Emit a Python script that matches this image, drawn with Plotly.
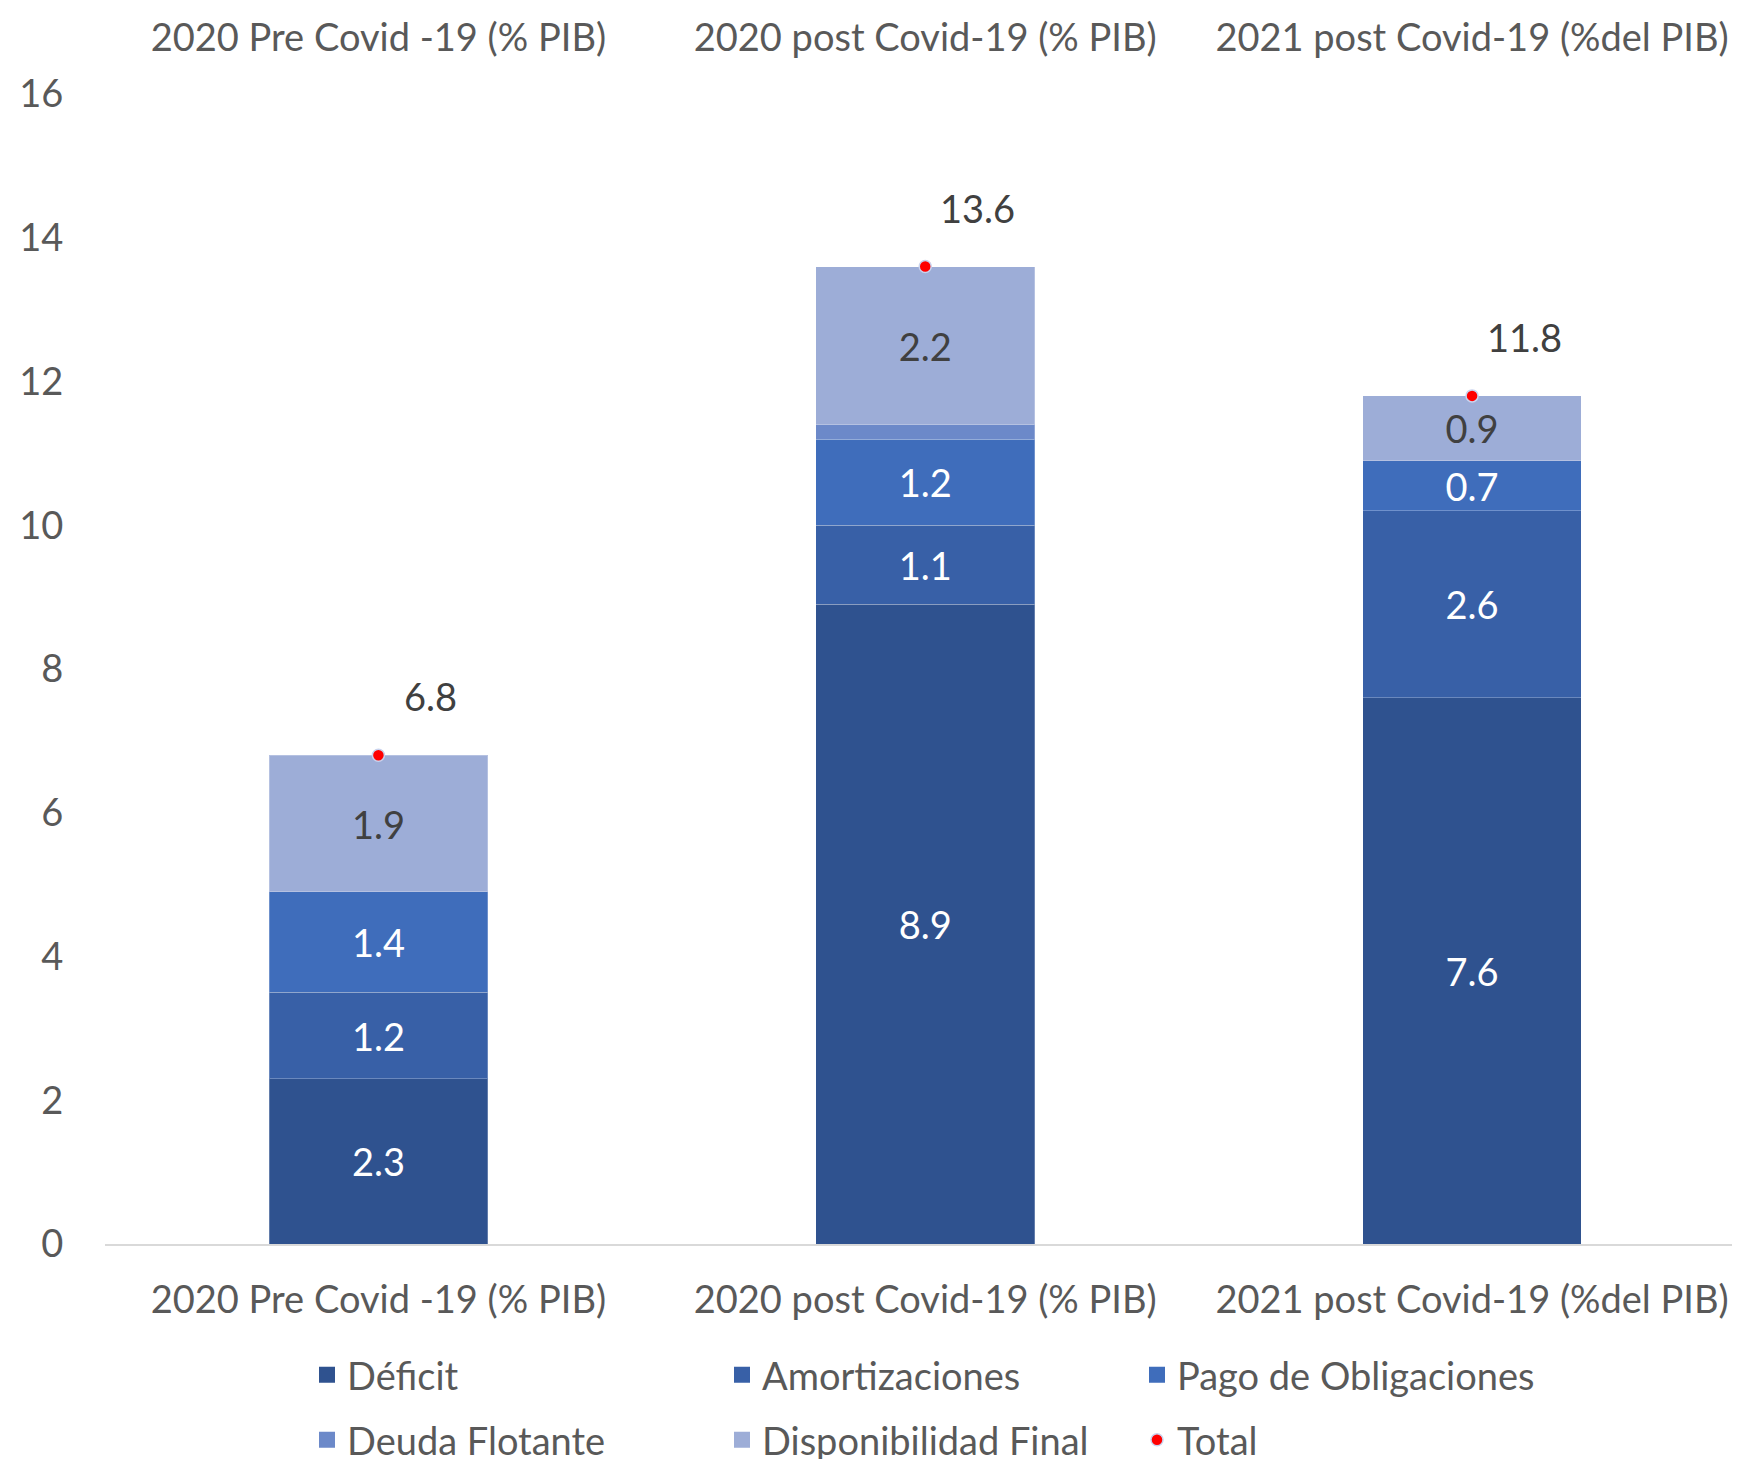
import plotly.graph_objects as go

categories = ["2020 Pre Covid -19 (% PIB)", "2020 post Covid-19 (% PIB)", "2021 post Covid-19 (%del PIB)"]
deficit = [2.3, 8.9, 7.6]
amortizaciones = [1.2, 1.1, 2.6]
pago_obligaciones = [1.4, 1.2, 0.7]
deuda_flotante = [0.0, 0.2, 0.0]
disponibilidad_final = [1.9, 2.2, 0.9]
total = [6.8, 13.6, 11.8]
y_ticks = [0, 2, 4, 6, 8, 10, 12, 14, 16]

FONT = "Lato"
FS = 38
GREY = "#595959"
DARK = "#404040"
W, H = 1732, 1451   # page body has an 8px margin
XRANGE = [-0.5, 2.49]  # plot area runs slightly past the right edge in the original

xpos = list(range(len(categories)))

series = [
    ("Déficit", deficit, "#2F528F", "white", True, "legend"),
    ("Amortizaciones", amortizaciones, "#3860A7", "white", True, "legend"),
    ("Pago de Obligaciones", pago_obligaciones, "#3F6DBB", "white", True, "legend"),
    ("Deuda Flotante", deuda_flotante, "#6C89C9", "white", False, "legend2"),
    ("Disponibilidad Final", disponibilidad_final, "#9DADD7", DARK, True, "legend2"),
]

fig = go.Figure()
for name, vals, color, tcolor, show_text, lg in series:
    fig.add_trace(go.Bar(
        name=name, x=xpos, y=vals,
        marker=dict(color=color, line=dict(color="rgba(255,255,255,0.25)", width=1)),
        text=[f"{v:.1f}" if (show_text and v > 0) else "" for v in vals],
        textposition="inside", insidetextanchor="middle", textangle=0,
        constraintext="none",
        textfont=dict(family=FONT, size=FS, color=tcolor),
        showlegend=False,
    ))
    # legend proxy with a larger square symbol
    fig.add_trace(go.Scatter(
        name=name, x=[None], y=[None], mode="markers",
        marker=dict(symbol="square", color=color, size=16),
        legend=lg, showlegend=True, hoverinfo="skip",
    ))

fig.add_trace(go.Scatter(
    name="Total", x=xpos, y=total, mode="markers",
    marker=dict(color="#FF0000", size=12, line=dict(color="#C9D3EE", width=1.5)),
    legend="legend2",
))

for xi, t in zip(xpos, total):
    fig.add_annotation(x=xi, y=t, text=f"{t:.1f}", showarrow=False,
                       xshift=52, yshift=59,
                       font=dict(family=FONT, size=FS, color=DARK))

legend_common = dict(orientation="h", xref="container", yref="container",
                     xanchor="left", yanchor="middle",
                     entrywidth=370, entrywidthmode="pixels", traceorder="normal",
                     font=dict(family=FONT, size=FS, color=GREY),
                     bgcolor="rgba(0,0,0,0)", borderwidth=0)

fig.update_layout(
    template="none",
    width=W, height=H,
    paper_bgcolor="white", plot_bgcolor="white",
    barmode="stack", bargap=0.6,
    margin=dict(l=97, r=0, t=86, b=215, pad=0),
    font=dict(family=FONT, size=FS, color=GREY),
    xaxis=dict(range=XRANGE, tickmode="array", tickvals=xpos, ticktext=categories,
               showline=True, linecolor="#D9D9D9", linewidth=1.5, showgrid=False,
               ticks="outside", ticklen=22, tickcolor="rgba(0,0,0,0)", automargin=False,
               tickfont=dict(family=FONT, size=FS, color=GREY), zeroline=False),
    xaxis2=dict(range=XRANGE, tickmode="array", tickvals=xpos, ticktext=categories,
                overlaying="x", side="top", showline=False, showgrid=False,
                ticks="outside", ticklen=27, tickcolor="rgba(0,0,0,0)", automargin=False,
                tickfont=dict(family=FONT, size=FS, color=GREY), zeroline=False),
    yaxis=dict(range=[0, 16], tickmode="array", tickvals=y_ticks,
               showgrid=False, zeroline=False, showline=False, automargin=False,
               ticks="outside", ticklen=33, tickcolor="rgba(0,0,0,0)",
               tickfont=dict(family=FONT, size=FS, color=GREY)),
    legend=dict(x=299 / W, y=1 - 1367 / H, **legend_common),
    legend2=dict(x=299 / W, y=1 - 1432 / H, **legend_common),
)

# invisible trace to activate the top axis
fig.add_trace(go.Scatter(x=xpos, y=[None]*len(xpos), xaxis="x2", showlegend=False,
                         hoverinfo="skip", mode="markers"))

fig.write_html("out.html")
